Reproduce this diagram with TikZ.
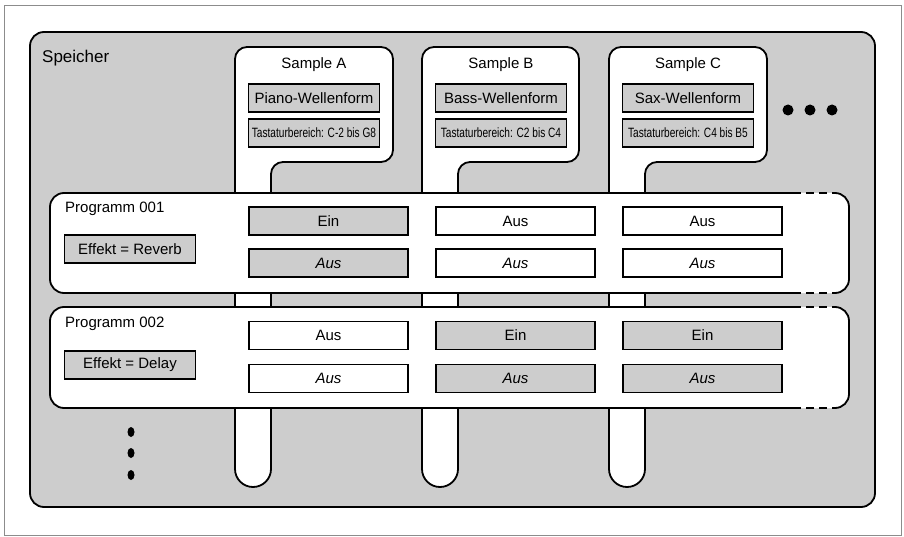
\documentclass[tikz,border=0pt]{standalone}
\usepackage{fontspec}
\setmainfont{Liberation Sans}
\usepackage{graphicx}
\usetikzlibrary{positioning}
\definecolor{memgray}{HTML}{CDCDCD}
\definecolor{framegray}{HTML}{8C8C8C}

\begin{document}
\begin{tikzpicture}[
		x=1pt, y=-1pt,
		tab/.style={draw, line width=1.8pt, fill=white},
		progline/.style={line width=1.8pt},
		cell/.style={
			draw,
			line width=1.2pt,
			minimum width=159pt,
			minimum height=28pt,
			inner sep=0pt,
			font=\fontsize{15}{18}\selectfont
		},
		cellon/.style={cell, fill=memgray},
		celloff/.style={cell, fill=white},
		wave/.style={
			draw,
			line width=1.2pt,
			fill=memgray,
			minimum width=131pt,
			minimum height=28pt,
			inner sep=0pt,
			font=\fontsize{15}{18}\selectfont
		},
		keyrange/.style={wave, font=\fontsize{13.5}{15}\selectfont},
		txt/.style={inner sep=0pt, font=\fontsize{15}{18}\selectfont}
		]
		
		\useasboundingbox (0,0) rectangle (904,537);
		\draw[framegray, line width=1pt] (4,6) rectangle (901,535);
		
		% memory
		\draw[line width=1.8pt, fill=memgray, rounded corners=14pt] (30,32) rectangle (875,507);
		\node[txt, anchor=west, font=\fontsize{17}{20}\selectfont] (mem) at (42,58) {Speicher};
		
		% samples
		\draw[tab] (271,300) -- (271,469) arc[start angle=0, end angle=-180, radius=18pt] -- (235,300)
			[rounded corners=12pt] -- (235,47) -- (393,47) -- (393,162) -- (271,162) -- cycle;
		\draw[tab] (458,300) -- (458,469) arc[start angle=0, end angle=-180, radius=18pt] -- (422,300)
			[rounded corners=12pt] -- (422,47) -- (579,47) -- (579,162) -- (458,162) -- cycle;
		\draw[tab] (645,300) -- (645,469) arc[start angle=0, end angle=-180, radius=18pt] -- (609,300)
			[rounded corners=12pt] -- (609,47) -- (767,47) -- (767,162) -- (645,162) -- cycle;
		
		\node[txt] (sampleA) at (314,65) {Sample A};
		\node[wave] (waveA) at (314,98) {Piano-Wellenform};
		\node[keyrange] (rangeA) at (314,133) {\scalebox{0.75}[1]{Tastaturbereich: C-2 bis G8}};
		
		\node[txt] (sampleB) at (501,65) {Sample B};
		\node[wave] (waveB) at (501,98) {Bass-Wellenform};
		\node[keyrange] (rangeB) at (501,133) {\scalebox{0.75}[1]{Tastaturbereich: C2 bis C4}};
		
		\node[txt] (sampleC) at (688,65) {Sample C};
		\node[wave] (waveC) at (688,98) {Sax-Wellenform};
		\node[keyrange] (rangeC) at (688,133) {\scalebox{0.75}[1]{Tastaturbereich: C4 bis B5}};
		
		\fill (788,110) circle (5.5pt) (810,110) circle (5.5pt) (832,110) circle (5.5pt);
		
		% programs
		\fill[white, rounded corners=14pt] (50,193) rectangle (849,293);
		\draw[progline, rounded corners=14pt] (793,193) -- (50,193) -- (50,293) -- (793,293);
		\draw[progline, dash pattern=on 8pt off 5pt] (793,193) -- (835,193) (793,293) -- (835,293);
		\draw[progline, rounded corners=14pt] (835,193) -- (849,193) -- (849,293) -- (835,293);
		
		\fill[white, rounded corners=14pt] (50,307) rectangle (849,408);
		\draw[progline, rounded corners=14pt] (793,307) -- (50,307) -- (50,408) -- (793,408);
		\draw[progline, dash pattern=on 8pt off 5pt] (793,307) -- (835,307) (793,408) -- (835,408);
		\draw[progline, rounded corners=14pt] (835,307) -- (849,307) -- (849,408) -- (835,408);
		
		\node[txt, anchor=west] (prog1) at (65,209) {Programm 001};
		\node[wave] (fx1) at (130,249) {Effekt = Reverb};
		\node[cellon] (a1) at (328.5,221) {Ein};
		\node[cellon] (a1v) at (328.5,263) {\itshape Aus};
		\node[celloff] (b1) at (515.5,221) {Aus};
		\node[celloff] (b1v) at (515.5,263) {\itshape Aus};
		\node[celloff] (c1) at (702.5,221) {Aus};
		\node[celloff] (c1v) at (702.5,263) {\itshape Aus};
		
		\node[txt, anchor=west] (prog2) at (65,324) {Programm 002};
		\node[wave] (fx2) at (130,365) {Effekt = Delay};
		\node[celloff] (a2) at (328.5,335.5) {Aus};
		\node[celloff] (a2v) at (328.5,378.5) {\itshape Aus};
		\node[cellon] (b2) at (515.5,335.5) {Ein};
		\node[cellon] (b2v) at (515.5,378.5) {\itshape Aus};
		\node[cellon] (c2) at (702.5,335.5) {Ein};
		\node[cellon] (c2v) at (702.5,378.5) {\itshape Aus};
		
		\fill (131,432) ellipse (3.5pt and 5pt) (131,453) ellipse (3.5pt and 5pt) (131,475) ellipse (3.5pt and 5pt);
		
	\end{tikzpicture}
\end{document}
